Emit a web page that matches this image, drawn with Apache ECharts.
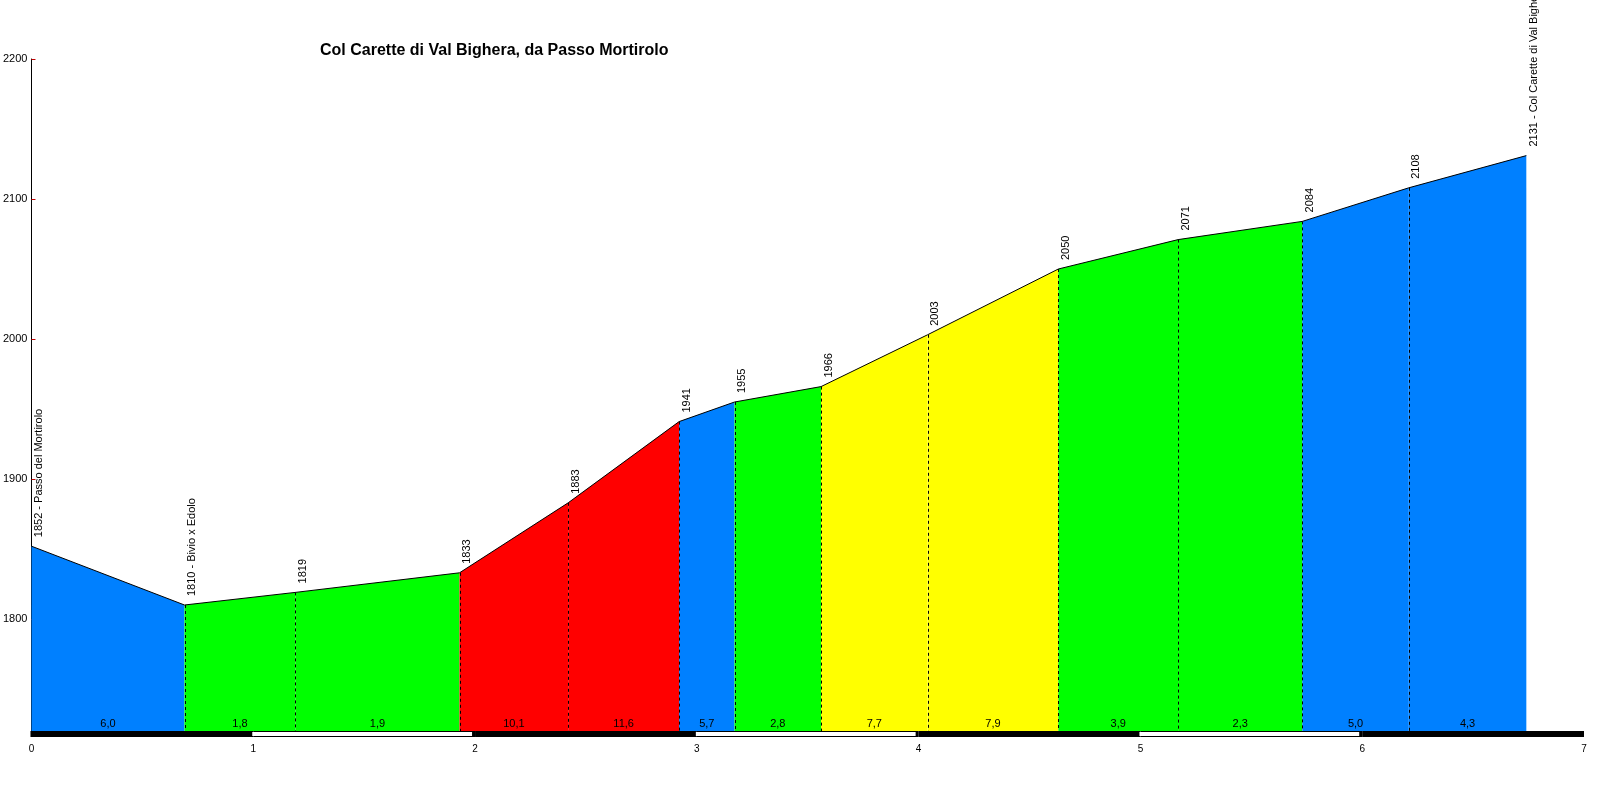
<!DOCTYPE html>
<html>
<head>
<meta charset="utf-8">
<script src="https://cdn.jsdelivr.net/npm/echarts@6/dist/echarts.min.js"></script>
<style>
  html, body { margin: 0; padding: 0; background: #fff; }
  #profile { width: 1600px; height: 800px; }
</style>
</head>
<body>
<div id="profile"></div>
<script>
// profilo altimetrico: km progressivi e quote dei punti
const km = [0, 0.69, 1.19, 1.93, 2.42, 2.92, 3.17, 3.56, 4.04, 4.63, 5.17, 5.73, 6.21, 6.74];
const quota = [1852, 1810, 1819, 1833, 1883, 1941, 1955, 1966, 2003, 2050, 2071, 2084, 2108, 2131];
const nomi = ['Passo del Mortirolo', 'Bivio x Edolo', '', '', '', '', '', '', '', '', '', '', '', 'Col Carette di Val Bighera'];
// pendenza media di ogni tratto (%)
const pendenze = ['6,0', '1,8', '1,9', '10,1', '11,6', '5,7', '2,8', '7,7', '7,9', '3,9', '2,3', '5,0', '4,3'];
const kmTicks = [0, 1, 2, 3, 4, 5, 6, 7];
const quotaTicks = [1800, 1900, 2000, 2100, 2200];
const quotaBase = 1720;

// colori dei tratti
const BLU = '#0080ff', VERDE = '#00ff00', ROSSO = '#ff0000', GIALLO = '#ffff00';
const coloriTratti = [BLU, VERDE, VERDE, ROSSO, ROSSO, BLU, VERDE, GIALLO, GIALLO, VERDE, VERDE, BLU, BLU];

const FONT = 'Arial, "Liberation Sans", sans-serif';

let tratti = [];
for (let i = 0; i < km.length - 1; i++) {
  tratti.push([km[i], quota[i], km[i + 1], quota[i + 1], i]);
}
let punti = km.map((k, i) => [k, quota[i]]);
let barraKm = [];
for (let i = 0; i < kmTicks.length - 1; i++) {
  barraKm.push([kmTicks[i], kmTicks[i + 1], quotaBase, i]);
}

let chart = echarts.init(document.getElementById('profile'));
let option = {
  animation: false,
  backgroundColor: '#fff',
  title: {
    text: 'Col Carette di Val Bighera, da Passo Mortirolo',
    left: 320,
    top: 43,
    padding: 0,
    textStyle: { fontFamily: FONT, fontSize: 16, fontWeight: 'bold', color: '#000' }
  },
  grid: { left: 31, right: 16, top: 59, bottom: 69 },
  xAxis: {
    type: 'value',
    min: 0,
    max: 7,
    interval: 1,
    axisLine: { show: false },
    axisTick: { show: false },
    splitLine: { show: false },
    axisLabel: { margin: 13, fontFamily: FONT, fontSize: 10, color: '#000', showMaxLabel: true, showMinLabel: true }
  },
  yAxis: {
    type: 'value',
    min: quotaBase,
    max: 2200,
    axisLine: { show: true, lineStyle: { color: '#000', width: 1 } },
    axisTick: { show: true, inside: true, length: 4, lineStyle: { color: '#c00000' }, customValues: quotaTicks },
    axisLabel: {
      margin: 4, fontFamily: FONT, fontSize: 11, color: '#000', customValues: quotaTicks,
      formatter: v => String(v)
    },
    splitLine: { show: false }
  },
  series: [
    {
      // aree colorate dei tratti
      type: 'custom',
      data: tratti,
      encode: { x: [0, 2], y: [1, 3] },
      z: 2,
      renderItem: function (params, api) {
        let i = api.value(4);
        let a = api.coord([api.value(0), api.value(1)]);
        let b = api.coord([api.value(2), api.value(3)]);
        let a0 = api.coord([api.value(0), quotaBase]);
        let b0 = api.coord([api.value(2), quotaBase]);
        let children = [
          {
            type: 'polygon',
            shape: { points: [a, b, b0, a0] },
            style: { fill: coloriTratti[i], stroke: null }
          },
          {
            type: 'text',
            x: (a0[0] + b0[0]) / 2,
            y: a0[1] - 7,
            style: { text: pendenze[i], fill: '#000', font: '11px ' + FONT, align: 'center', verticalAlign: 'middle' }
          }
        ];
        if (i > 0) {
          children.push({
            type: 'line',
            shape: { x1: Math.round(a[0]) + 0.5, y1: a[1], x2: Math.round(a[0]) + 0.5, y2: a0[1] },
            style: { stroke: '#000', lineWidth: 1, lineDash: [3, 3] }
          });
        }
        return { type: 'group', children: children };
      }
    },
    {
      // profilo
      type: 'line',
      data: punti,
      symbol: 'none',
      z: 3,
      lineStyle: { color: '#000', width: 1 },
      silent: true
    },
    {
      // quote e nomi dei punti
      type: 'custom',
      data: punti,
      encode: { x: 0, y: 1 },
      z: 4,
      renderItem: function (params, api) {
        let p = api.coord([api.value(0), api.value(1)]);
        let i = params.dataIndex;
        let txt = nomi[i] ? quota[i] + ' - ' + nomi[i] : String(quota[i]);
        return {
          type: 'text',
          x: p[0] + 2,
          y: p[1] - 9,
          rotation: Math.PI / 2,
          style: { text: txt, fill: '#000', font: '11px ' + FONT, align: 'left', verticalAlign: 'top' }
        };
      }
    },
    {
      // barra chilometrica bianca e nera
      type: 'custom',
      data: barraKm,
      encode: { x: [0, 1], y: 2 },
      z: 5,
      renderItem: function (params, api) {
        let i = api.value(3);
        let s = api.coord([api.value(0), api.value(2)]);
        let e = api.coord([api.value(1), api.value(2)]);
        let x0 = i === 0 ? s[0] - 1 : s[0];
        let children = [{
          type: 'rect',
          shape: { x: x0, y: s[1], width: e[0] - x0, height: 6 },
          style: { fill: '#000' }
        }];
        if (i % 2 === 1) {
          children.push({
            type: 'rect',
            shape: { x: s[0] - 1, y: s[1] + 1, width: e[0] - s[0] - 2, height: 4 },
            style: { fill: '#fff' }
          });
        }
        return { type: 'group', children: children };
      }
    }
  ]
};
chart.setOption(option);
</script>
</body>
</html>
